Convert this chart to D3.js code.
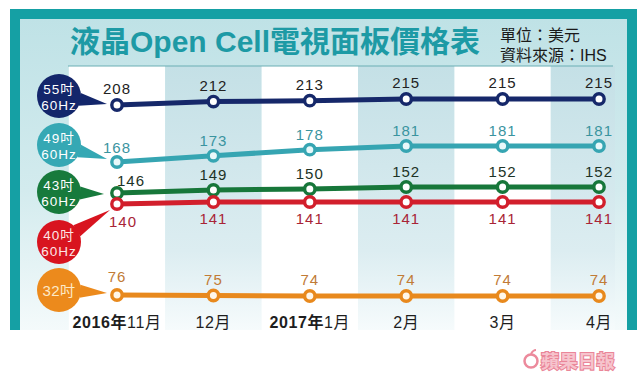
<!DOCTYPE html>
<html><head><meta charset="utf-8">
<script src="https://cdn.jsdelivr.net/npm/d3@7/dist/d3.min.js"></script>
<style>
html,body{margin:0;padding:0;background:#fff;}
svg{display:block;}
text{font-family:"Liberation Sans","Noto Sans CJK TC",sans-serif;}
</style></head>
<body><svg id="c" width="640" height="383"></svg>
<script>
// ---- data ----
const years  = ["2016年", "", "2017年", "", "", ""];
const months = ["11月", "12月", "1月", "2月", "3月", "4月"];
const seriesNames = ["55吋|60Hz", "49吋|60Hz", "43吋|60Hz", "40吋|60Hz", "32吋"];
const s55 = [208, 212, 213, 215, 215, 215];
const s49 = [168, 173, 178, 181, 181, 181];
const s43 = [146, 149, 150, 152, 152, 152];
const s40 = [140, 141, 141, 141, 141, 141];
const s32 = [76, 75, 74, 74, 74, 74];
const title = "液晶Open Cell電視面板價格表";
const unitText = "單位：美元";
const sourceText = "資料來源：IHS";
const logoText = "蘋果日報";

// ---- style / layout ----
const styles = [
  {vals:s55, line:"#16286a", fill:"#ffffff", bub:"#13266b", txt:"#ffffff", lab:"#222222", labDy:-11, firstDx:0, firstDy:-11, bcy:96,  tip:[-10,-1]},
  {vals:s49, line:"#36a5b2", fill:"#e8f8fa", bub:"#35a8b4", txt:"#ffffff", lab:"#3a949f", labDy:-10, firstDx:0, firstDy:-9, bcy:145, tip:[-10,-3]},
  {vals:s43, line:"#17773a", fill:"#ffffff", bub:"#177a3c", txt:"#ffffff", lab:"#1d3326", labDy:-10, firstDx:14, firstDy:-7, bcy:192, tip:[-13,1]},
  {vals:s40, line:"#d21f2c", fill:"#ffffff", bub:"#d8141f", txt:"#fde6e6", lab:"#a82436", labDy:22, firstDx:6, firstDy:23, bcy:242, tip:[-7,6]},
  {vals:s32, line:"#e8891d", fill:"#fff7ea", bub:"#ec8a1c", txt:"#fde9c8", lab:"#c17b36", labDy:-11, firstDx:0, firstDy:-13, bcy:290, tip:[-10,-2]}
];

const svg = d3.select("#c");
const defs = svg.append("defs");
const g1 = defs.append("linearGradient").attr("id","panelG").attr("x1",0).attr("y1",0).attr("x2",0).attr("y2",1);
g1.append("stop").attr("offset","0%").attr("stop-color","#bfe2e6");
g1.append("stop").attr("offset","55%").attr("stop-color","#d3ebee");
g1.append("stop").attr("offset","100%").attr("stop-color","#f4fafb");
const g2 = defs.append("linearGradient").attr("id","bandG").attr("x1",0).attr("y1",0).attr("x2",0).attr("y2",1);
g2.append("stop").attr("offset","0%").attr("stop-color","#c4e0e6");
g2.append("stop").attr("offset","70%").attr("stop-color","#dcedf1");
g2.append("stop").attr("offset","100%").attr("stop-color","#f6fbfc");

// frame
svg.append("rect").attr("x",10).attr("y",9).attr("width",627).attr("height",321).attr("fill","#15a0a4");
svg.append("rect").attr("x",20).attr("y",19).attr("width",607).attr("height",311).attr("fill","url(#panelG)");

// scales
const x = d3.scalePoint().domain(d3.range(months.length)).range([117, 599]);
const step = x.step();
const y = d3.scaleLinear()
  .domain([74, 76, 140, 141, 146, 152, 168, 181, 208, 215])
  .range([296, 295, 204, 202, 193, 187, 162, 146, 105, 99]);

// bands
const bandTop = 66, bandBot = 330, bandRight = 615;
svg.append("g").selectAll("rect").data(months).join("rect")
  .attr("x",(d,i)=>x(i)-step/2)
  .attr("y",bandTop)
  .attr("width",(d,i)=>Math.min(x(i)+step/2, bandRight)-(x(i)-step/2))
  .attr("height",bandBot-bandTop)
  .attr("fill",(d,i)=> i%2===0 ? "#ffffff" : "url(#bandG)");

// underline
svg.append("line").attr("x1",68).attr("x2",613).attr("y1",66).attr("y2",66)
  .attr("stroke","#6aaeb4").attr("stroke-width",1);

// title
svg.append("text").attr("x",70).attr("y",52).attr("font-size",30).attr("font-weight","bold")
  .attr("fill","#1d9aa5").text(title);
svg.append("text").attr("x",500).attr("y",41).attr("font-size",16).attr("fill","#1a1a1a").text(unitText);
svg.append("text").attr("x",500).attr("y",61).attr("font-size",16).attr("fill","#1a1a1a").text(sourceText);

// lines and points
const line = d3.line().x((d,i)=>x(i)).y(d=>y(d));
styles.forEach(s=>{
  svg.append("path").datum(s.vals).attr("d",line).attr("fill","none")
    .attr("stroke",s.line).attr("stroke-width",5);
});
styles.forEach(s=>{
  const g = svg.append("g");
  g.selectAll("circle").data(s.vals).join("circle")
    .attr("cx",(d,i)=>x(i)).attr("cy",d=>y(d)).attr("r",5.2)
    .attr("fill",s.fill).attr("stroke",s.line).attr("stroke-width",3.4);
  g.selectAll("text").data(s.vals).join("text")
    .attr("x",(d,i)=>x(i)+(i===0?s.firstDx:0))
    .attr("y",(d,i)=>y(d)+(i===0?s.firstDy:s.labDy))
    .attr("text-anchor","middle").attr("font-size",15).attr("letter-spacing",1)
    .attr("fill",s.lab).text(d=>d);
});

// bubbles
const bcx = 59, br = 22;
styles.forEach((s,k)=>{
  const g = svg.append("g");
  const px = x(0)+s.tip[0], py = y(s.vals[0])+s.tip[1];
  const phi = Math.atan2(py-s.bcy, px-bcx);
  const a = 0.3;
  const p1 = [bcx+br*Math.cos(phi-a), s.bcy+br*Math.sin(phi-a)];
  const p2 = [bcx+br*Math.cos(phi+a), s.bcy+br*Math.sin(phi+a)];
  g.append("path").attr("d",`M${p1[0]},${p1[1]}L${px},${py}L${p2[0]},${p2[1]}Z`).attr("fill",s.bub);
  g.append("circle").attr("cx",bcx).attr("cy",s.bcy).attr("r",br).attr("fill",s.bub);
  const lines = seriesNames[k].split("|");
  if(lines.length===2){
    g.append("text").attr("x",bcx).attr("y",s.bcy-2).attr("text-anchor","middle")
      .attr("font-size",13.5).attr("letter-spacing",1).attr("fill",s.txt).text(lines[0]);
    g.append("text").attr("x",bcx).attr("y",s.bcy+13.5).attr("text-anchor","middle")
      .attr("font-size",13.5).attr("letter-spacing",1).attr("fill",s.txt).text(lines[1]);
  } else {
    g.append("text").attr("x",bcx).attr("y",s.bcy+6).attr("text-anchor","middle")
      .attr("font-size",15).attr("letter-spacing",0.5).attr("fill",s.txt).text(lines[0]);
  }
});

// x axis labels
const xl = svg.append("g").selectAll("text").data(months).join("text")
  .attr("x",(d,i)=>x(i)).attr("y",328).attr("text-anchor","middle")
  .attr("font-size",16).attr("letter-spacing",0.6).attr("fill","#1e1e1e");
xl.append("tspan").attr("font-weight","bold").text((d,i)=>years[i]);
xl.append("tspan").text(d=>d);

// logo
const lg = svg.append("g");
lg.append("circle").attr("cx",531).attr("cy",361).attr("r",6.5).attr("fill","none")
  .attr("stroke","#ec8a9c").attr("stroke-width",2.5);
lg.append("path").attr("d","M531,354 q2,-4 5,-4").attr("fill","none").attr("stroke","#ec8a9c").attr("stroke-width",2);
lg.append("text").attr("x",541).attr("y",368).attr("font-size",18).attr("font-weight","bold")
  .attr("fill","#f6c4cd").attr("stroke","#ea8699").attr("stroke-width",2.2)
  .attr("paint-order","stroke").attr("letter-spacing",0.5).text(logoText);
</script></body></html>
